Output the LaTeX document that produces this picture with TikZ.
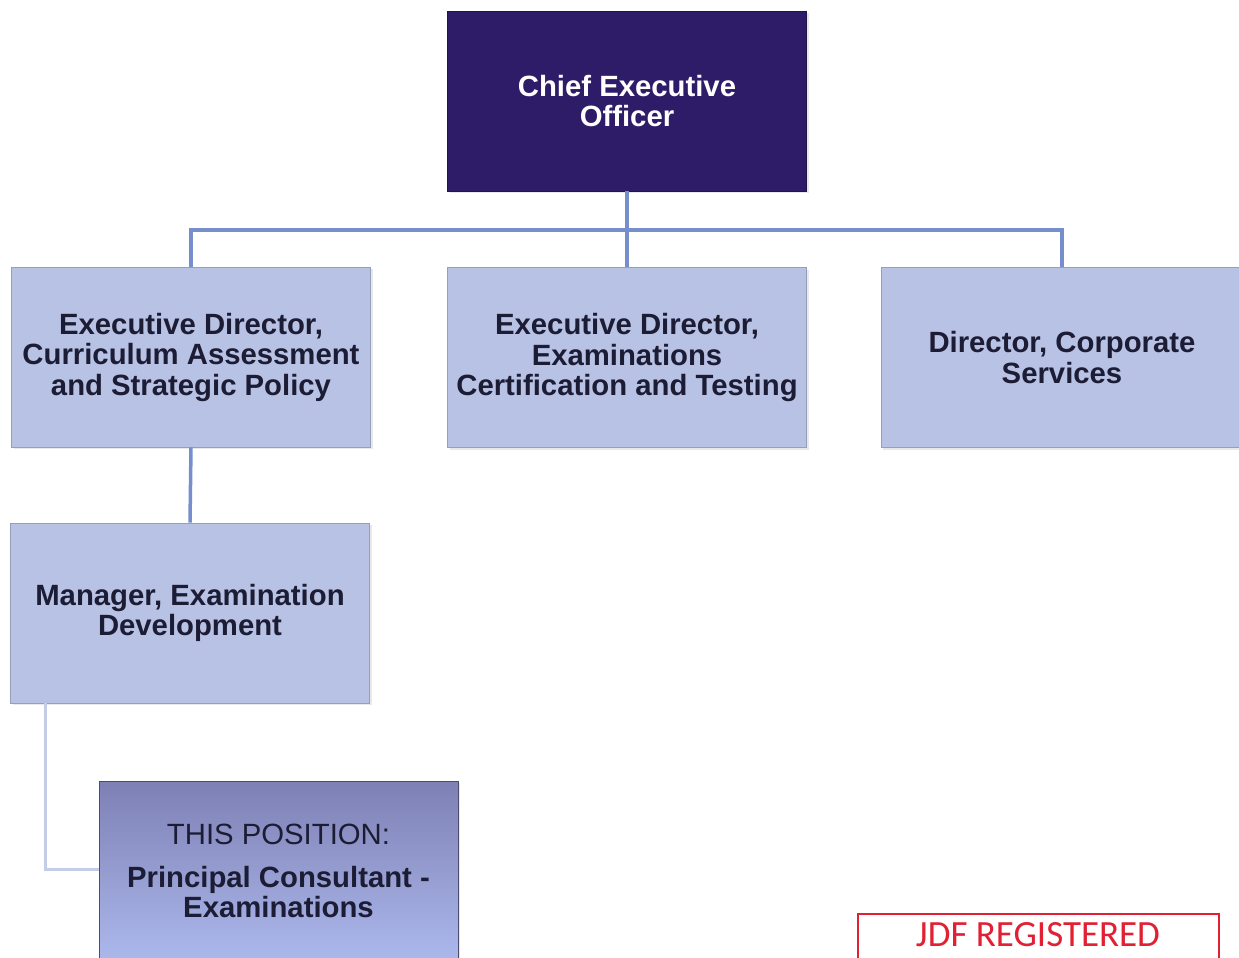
\documentclass[tikz,border=0pt]{standalone}
\usepackage{fontspec}
\setmainfont{Liberation Sans}
\newfontfamily\stampfont{Carlito}
\usetikzlibrary{shadows}
\definecolor{ceofill}{RGB}{46,28,104}
\definecolor{boxfill}{RGB}{184,194,229}
\definecolor{boxedge}{RGB}{150,158,190}
\definecolor{linkblue}{RGB}{118,143,204}
\definecolor{linkpale}{RGB}{196,205,232}
\definecolor{inktext}{RGB}{28,28,52}
\definecolor{postop}{RGB}{126,128,180}
\definecolor{posbottom}{RGB}{172,184,236}
\definecolor{stampred}{RGB}{226,32,52}
\tikzset{
  orgbox/.style={draw=boxedge, line width=0.8pt, fill=boxfill,
    minimum width=359pt, minimum height=180pt, inner sep=0pt,
    align=center, text=inktext, font=\bfseries\fontsize{29.3}{30.5}\selectfont,
    drop shadow={shadow xshift=2pt, shadow yshift=-2pt, opacity=0.18}},
  topbox/.style={orgbox, fill=ceofill, draw=ceofill!70!black, text=white},
  posbox/.style={orgbox, top color=postop, bottom color=posbottom,
    draw=postop!60!black, font=\fontsize{29.3}{30.5}\selectfont},
  conn/.style={draw=linkblue, line width=3.5pt},
  connpale/.style={draw=linkpale, line width=3pt},
  stamp/.style={draw=stampred, line width=2.2pt,
    minimum width=361pt, minimum height=90pt, inner sep=0pt},
  stamptext/.style={text=stampred, inner sep=0pt, text depth=0pt,
    font=\stampfont\fontsize{37}{40}\selectfont}
}
\begin{document}
\begin{tikzpicture}[x=1pt,y=-1pt]
  \useasboundingbox (0,0) rectangle (1239,958);
  \clip (0,0) rectangle (1239,958);
  \fill[white] (0,0) rectangle (1239,958);

  % junction points of the connector tree
  \coordinate (bus) at (627,230);
  \coordinate (bend) at (45,869);

  % boxes
  \node[topbox] (ceo) at (627,101) {Chief Executive\\Officer};
  \node[orgbox] (ed1) at (191,357) {Executive Director,\\Curriculum Assessment\\and Strategic Policy};
  \node[orgbox] (ed2) at (627,357.5) {Executive Director,\\Examinations\\Certification and Testing};
  \node[orgbox, minimum width=362pt] (dcs) at (1062,357.5) {Director, Corporate\\Services};
  \node[orgbox] (mgr) at (190,613) {Manager, Examination\\Development};
  \node[posbox] (pos) at (278.5,871) {THIS POSITION:\\[12pt]\bfseries Principal Consultant -\\\bfseries Examinations};

  % connectors
  \draw[conn] (ceo.south) -- (bus);
  \draw[conn] (ed1.north) |- (bus) -| (dcs.north);
  \draw[conn] (bus) -- (ed2.north);
  \draw[conn] (ed1.south) -- (mgr.north);
  \draw[connpale] (mgr.south -| bend) -- (bend) -- (bend -| pos.west);

  % registration stamp
  \node[stamp, anchor=north west] (jdf) at (857,913) {};
  \node[stamptext, anchor=base] (jdftext) at (1038,946) {JDF REGISTERED};
\end{tikzpicture}
\end{document}
